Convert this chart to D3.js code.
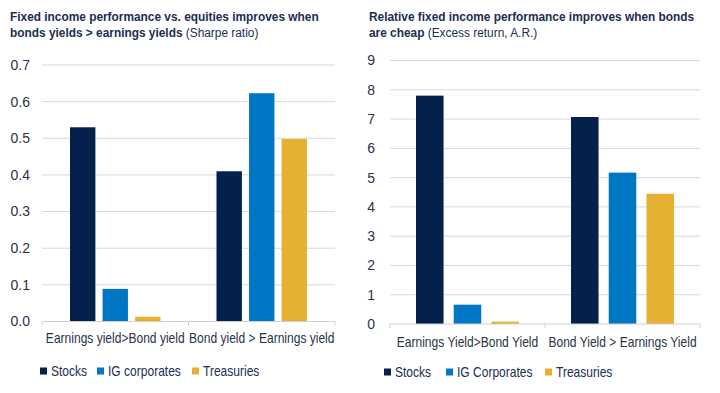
<!DOCTYPE html>
<html>
<head>
<meta charset="utf-8">
<script src="https://cdn.jsdelivr.net/npm/d3@7"></script>
<style>
  body { margin: 0; background: #fff; }
  svg { display: block; font-family: "Liberation Sans", Arial, sans-serif; }
</style>
</head>
<body>
<svg id="chart" width="720" height="393"></svg>
<script>
const series = ["Stocks", "IG corporates", "Treasuries"];
const seriesRight = ["Stocks", "IG Corporates", "Treasuries"];
const colors = ["#03214a", "#0077c5", "#e6b032"];

const catsLeft = ["Earnings yield>Bond yield", "Bond yield > Earnings yield"];
const sharpeStocks = [0.53, 0.41];
const sharpeIG = [0.089, 0.623];
const sharpeTsy = [0.013, 0.498];
const ticksLeft = [0, 0.1, 0.2, 0.3, 0.4, 0.5, 0.6, 0.7];

const catsRight = ["Earnings Yield>Bond Yield", "Bond Yield > Earnings Yield"];
const excessStocks = [7.8, 7.07];
const excessIG = [0.66, 5.17];
const excessTsy = [0.08, 4.45];
const ticksRight = [0, 1, 2, 3, 4, 5, 6, 7, 8, 9];

const svg = d3.select("#chart");
const navy = "#1c2d52";
const axisText = "#2a3347";
const squeeze = 0.86; // the original uses a narrow face

// place a text at (x,y) squeezed horizontally around its anchor
function narrow(sel, x, y, k) {
  return sel.attr("transform", `translate(${x},${y}) scale(${k || squeeze},1)`);
}

function drawPanel(o) {
  const g = svg.append("g");

  // title: bold part + regular note
  o.title.forEach((line, i) => {
    const t = g.append("text")
      .attr("fill", navy)
      .style("font-size", "13.5px");
    narrow(t, o.titleX, 21 + i * 16, 0.88);
    t.append("tspan").attr("font-weight", "bold").text(line[0]);
    if (line[1]) t.append("tspan").attr("font-weight", "normal").text(" " + line[1]);
  });

  const x0 = d3.scaleBand().domain(o.cats).range([o.left, o.right]);
  const x1 = d3.scaleBand().domain(o.series)
    .range([o.groupPad, x0.bandwidth() - o.groupPad])
    .paddingInner(o.barPad);
  const y = d3.scaleLinear().domain(o.domain).range([o.bottom, o.top]);

  // gridlines
  g.append("g").selectAll("line")
    .data(o.ticks.slice(1))
    .join("line")
    .attr("x1", o.left).attr("x2", o.right)
    .attr("y1", d => y(d)).attr("y2", d => y(d))
    .attr("stroke", "#d9d9d9").attr("stroke-width", 1);

  // y tick labels
  g.append("g").selectAll("text")
    .data(o.ticks)
    .join("text")
    .attr("x", o.left - o.tickGap)
    .attr("y", d => y(d))
    .attr("dy", "0.35em")
    .attr("text-anchor", "end")
    .attr("fill", axisText)
    .style("font-size", "14px")
    .text(o.fmt);

  // bars
  const rows = o.cats.map((c, i) => ({ cat: c, vals: o.values.map(v => v[i]) }));
  g.append("g").selectAll("g")
    .data(rows)
    .join("g")
    .attr("transform", d => `translate(${x0(d.cat)},0)`)
    .selectAll("rect")
    .data(d => d.vals.map((v, j) => ({ key: o.series[j], v, j })))
    .join("rect")
    .attr("x", d => x1(d.key))
    .attr("width", x1.bandwidth())
    .attr("y", d => y(d.v))
    .attr("height", d => y(0) - y(d.v))
    .attr("fill", d => colors[d.j]);

  // baseline axis with category ticks
  const axis = g.append("g").attr("transform", `translate(0,${y(0)})`);
  axis.append("line")
    .attr("x1", o.left).attr("x2", o.right)
    .attr("stroke", "#d0d0d0");
  const edges = [o.left].concat(o.cats.map(c => x0(c) + x0.bandwidth()));
  axis.selectAll(".tk")
    .data(edges)
    .join("line")
    .attr("x1", d => d).attr("x2", d => d)
    .attr("y1", 0).attr("y2", 4)
    .attr("stroke", "#d0d0d0");
  axis.selectAll(".cat")
    .data(o.cats)
    .join("text")
    .each(function (d) {
      narrow(d3.select(this), x0(d) + x0.bandwidth() / 2, o.catDy);
    })
    .attr("text-anchor", "middle")
    .attr("fill", axisText)
    .style("font-size", "14px")
    .text(d => d);

  // legend
  const leg = g.append("g").selectAll("g")
    .data(o.series)
    .join("g")
    .attr("transform", (d, i) => `translate(${o.legendX[i]},${o.legendY})`);
  leg.append("rect")
    .attr("x", 0).attr("y", -3.5)
    .attr("width", 7).attr("height", 7)
    .attr("fill", (d, i) => colors[i]);
  leg.append("text")
    .each(function () { narrow(d3.select(this), 11, 0); })
    .attr("dy", "0.35em")
    .attr("fill", navy)
    .style("font-size", "14px")
    .text(d => d);
}

drawPanel({
  title: [["Fixed income performance vs. equities improves when"],
          ["bonds yields > earnings yields", "(Sharpe ratio)"]],
  titleX: 10,
  cats: catsLeft,
  series: series,
  values: [sharpeStocks, sharpeIG, sharpeTsy],
  ticks: ticksLeft,
  domain: [0, 0.7],
  fmt: d => d3.format(".1f")(d),
  left: 42, right: 335, top: 65, bottom: 321.5,
  groupPad: 28, barPad: 0.22, tickGap: 12,
  catDy: 21.5,
  legendX: [40, 97, 192],
  legendY: 371
});

drawPanel({
  title: [["Relative fixed income performance improves when bonds"],
          ["are cheap", "(Excess return, A.R.)"]],
  titleX: 369,
  cats: catsRight,
  series: seriesRight,
  values: [excessStocks, excessIG, excessTsy],
  ticks: ticksRight,
  domain: [0, 9],
  fmt: d => d3.format("d")(d),
  left: 390, right: 700, top: 60.5, bottom: 324,
  groupPad: 26, barPad: 0.27, tickGap: 15,
  catDy: 22.5,
  legendX: [384, 446, 545],
  legendY: 372
});
</script>
</body>
</html>
